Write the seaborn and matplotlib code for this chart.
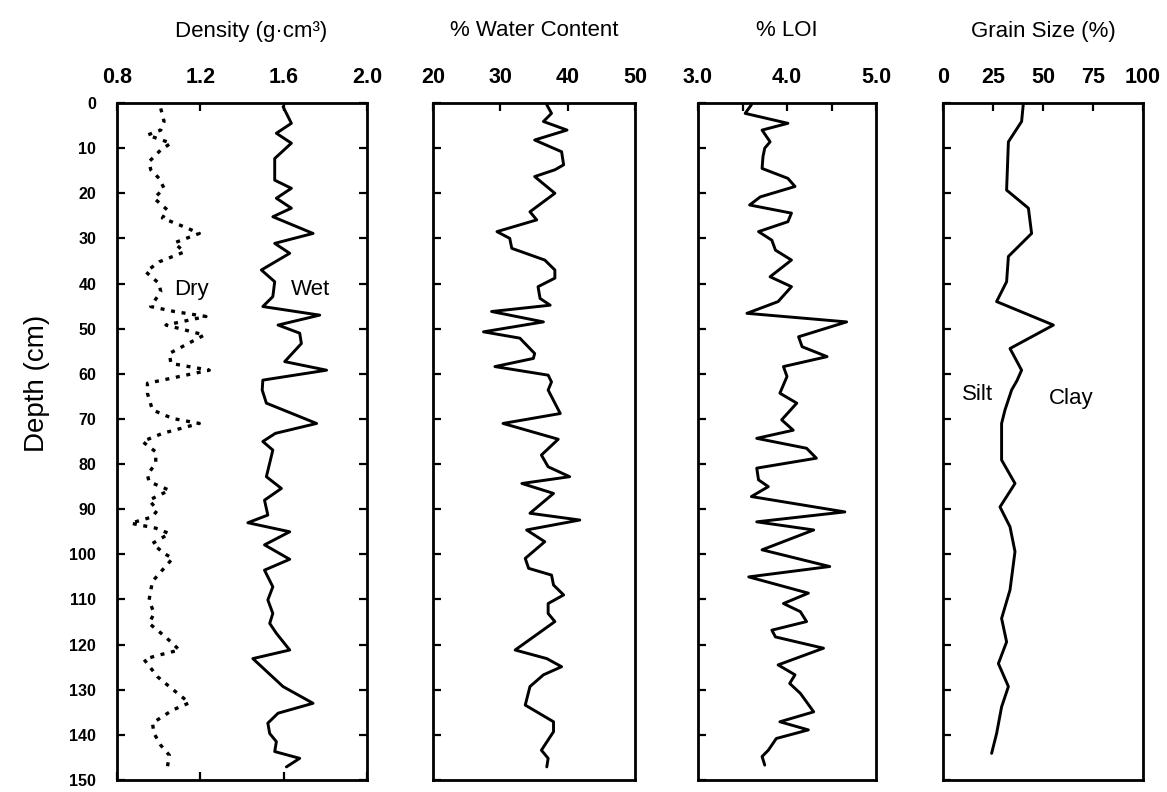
import matplotlib
matplotlib.use("Agg")
import matplotlib.pyplot as plt
import seaborn as sns
import numpy as np

# ---------------- data ----------------
wet_depth = [0.8, 4.5, 6.7, 8.9, 12.3, 17.1, 18.9, 21.1, 23.3, 25.2, 28.9, 31.1, 33.3, 37.0,
             39.6, 42.9, 45.1, 47.0, 49.2, 51.0, 53.3, 57.3, 59.2, 61.4, 63.6, 66.5, 71.0,
             73.2, 75.0, 76.9, 82.8, 85.4, 88.0, 91.3, 93.0, 95.0, 97.9, 101.1, 103.5, 107.2,
             110.1, 113.1, 115.3, 117.5, 121.2, 123.1, 129.3, 133.0, 135.2, 137.4, 139.7,
             141.5, 143.7, 145.2, 147.1]
wet_density = [1.597, 1.637, 1.565, 1.637, 1.557, 1.557, 1.637, 1.565, 1.637, 1.548, 1.741,
               1.557, 1.629, 1.493, 1.557, 1.548, 1.500, 1.773, 1.573, 1.677, 1.685, 1.605,
               1.806, 1.500, 1.497, 1.517, 1.758, 1.560, 1.500, 1.548, 1.517, 1.589, 1.508,
               1.524, 1.428, 1.629, 1.508, 1.629, 1.508, 1.548, 1.524, 1.548, 1.533, 1.565,
               1.629, 1.452, 1.597, 1.741, 1.573, 1.524, 1.533, 1.565, 1.557, 1.677, 1.613]

dry_depth = [1.2, 4.1, 6.0, 7.1, 8.9, 10.4, 13.0, 14.8, 16.7, 18.9, 21.1, 23.7, 25.5, 27.6,
             28.9, 31.0, 33.0, 35.2, 37.4, 40.0, 41.8, 45.1, 46.2, 47.3, 49.2, 51.4, 55.5,
             57.7, 59.2, 62.1, 64.3, 68.0, 69.9, 71.0, 73.2, 75.0, 77.3, 79.8, 82.4, 83.9,
             85.8, 88.0, 90.2, 91.7, 93.1, 94.2, 95.4, 97.6, 99.8, 100.9, 106.0, 110.1,
             113.1, 115.3, 117.1, 119.4, 121.2, 122.5, 123.3, 127.1, 129.3, 132.9, 134.5,
             137.4, 139.7, 142.3, 144.5, 147.1]
dry_density = [1.010, 1.026, 1.010, 0.946, 1.059, 1.010, 0.954, 0.962, 1.002, 1.026, 0.978,
               1.042, 1.018, 1.131, 1.195, 1.075, 1.123, 1.002, 0.938, 1.002, 1.010, 0.962,
               1.075, 1.227, 1.035, 1.219, 1.051, 1.059, 1.243, 0.946, 0.946, 0.970, 1.067,
               1.195, 1.018, 0.922, 0.986, 0.986, 0.946, 0.954, 1.051, 0.954, 0.994, 0.970,
               0.866, 0.986, 1.051, 0.970, 1.026, 1.067, 0.970, 0.954, 0.978, 0.954, 1.002,
               1.059, 1.099, 0.986, 0.930, 0.994, 1.051, 1.147, 1.067, 0.970, 0.978, 1.010,
               1.051, 1.042]

water_depth = [0.4, 2.3, 4.1, 6.0, 8.2, 9.7, 10.8, 13.7, 14.8, 16.3, 20.0, 24.1, 25.9, 28.5,
               30.0, 32.2, 34.8, 37.0, 38.8, 40.7, 43.3, 44.8, 46.2, 48.5, 50.7, 52.1, 55.5,
               56.6, 58.4, 60.3, 61.8, 63.6, 68.8, 71.0, 74.5, 78.0, 80.6, 82.8, 84.3, 86.5,
               90.9, 92.4, 94.6, 97.2, 100.9, 103.1, 104.6, 106.8, 109.0, 110.9, 113.1, 114.9,
               121.2, 123.1, 124.9, 126.7, 129.3, 133.4, 137.1, 139.3, 143.4, 145.2, 147.1]
water_content = [36.9, 37.6, 36.4, 39.9, 35.1, 37.4, 39.1, 39.4, 38.1, 35.1, 38.1, 34.4, 35.4,
                 29.5, 31.4, 31.7, 36.6, 38.1, 38.1, 35.6, 35.9, 37.4, 28.7, 36.4, 27.5, 32.9,
                 35.1, 34.9, 29.2, 37.1, 37.6, 37.1, 38.9, 30.4, 38.6, 36.1, 37.1, 40.3, 33.2,
                 37.9, 34.4, 41.8, 33.9, 36.6, 33.7, 34.2, 37.6, 37.9, 39.4, 37.1, 37.1, 38.1,
                 32.2, 36.9, 39.1, 36.4, 34.4, 33.7, 37.9, 37.9, 36.1, 37.1, 36.9]

loi_depth = [0.4, 2.3, 4.5, 6.0, 8.6, 10.0, 11.9, 14.5, 16.7, 18.5, 20.8, 22.6, 24.4, 26.3,
             28.5, 30.4, 32.6, 34.8, 38.5, 40.7, 44.0, 46.6, 48.5, 51.8, 54.0, 56.2, 58.4,
             60.6, 64.3, 66.5, 70.2, 72.5, 74.3, 76.5, 78.7, 80.9, 83.5, 85.0, 87.2, 90.6,
             92.8, 94.6, 99.0, 102.7, 105.0, 108.6, 110.9, 112.7, 114.9, 116.8, 118.3, 120.8,
             124.5, 126.7, 128.6, 130.8, 134.9, 137.1, 138.9, 140.8, 143.4, 144.8, 146.7]
loi_pct = [3.60, 3.53, 4.01, 3.72, 3.81, 3.75, 3.73, 3.72, 4.01, 4.09, 3.70, 3.58, 4.05, 4.01,
           3.68, 3.83, 3.87, 4.05, 3.81, 4.05, 3.90, 3.55, 4.67, 4.13, 4.17, 4.45, 3.96, 4.00,
           3.92, 4.11, 3.94, 4.07, 3.66, 4.22, 4.33, 3.66, 3.68, 3.79, 3.60, 4.65, 3.66, 4.30,
           3.72, 4.48, 3.57, 4.24, 3.96, 4.15, 4.22, 3.83, 3.87, 4.41, 3.90, 4.09, 4.03, 4.15,
           4.30, 3.92, 4.24, 3.88, 3.79, 3.72, 3.75]

grain_depth = [0.0, 4.1, 8.6, 19.3, 23.3, 28.9, 34.0, 39.6, 44.0, 49.2, 54.4, 59.2, 61.5,
               63.6, 68.0, 71.0, 79.1, 84.3, 89.5, 93.9, 99.4, 107.9, 114.2, 119.4, 124.2,
               129.3, 133.8, 139.7, 144.1]
grain_silt = [40.2, 39.3, 32.7, 31.8, 42.7, 44.3, 32.7, 31.8, 26.8, 55.2, 33.5, 39.3, 37.0,
              34.3, 31.0, 29.3, 29.3, 36.0, 28.5, 33.5, 36.0, 33.5, 29.3, 31.8, 27.7, 32.7,
              29.3, 26.8, 24.3]

titles = ["Density (g\u00b7cm\u00b3)", "% Water Content", "% LOI", "Grain Size (%)"]
xlims = [(0.8, 2.0), (20, 50), (3.0, 5.0), (0, 100)]
xlabels = [["0.8", "1.2", "1.6", "2.0"], ["20", "30", "40", "50"],
           ["3.0", "4.0", "5.0"], ["0", "25", "50", "75", "100"]]
xlabel_vals = [[0.8, 1.2, 1.6, 2.0], [20, 30, 40, 50], [3.0, 4.0, 5.0], [0, 25, 50, 75, 100]]
xminor_vals = [[], [], [3.5, 4.5], []]
depth_ticks = list(range(0, 151, 10))

# ---------------- style ----------------
sns.set_style("white")
plt.rcParams["font.family"] = ["Liberation Sans", "DejaVu Sans"]
for k in ["text.color", "axes.labelcolor", "xtick.color", "ytick.color", "axes.edgecolor"]:
    plt.rcParams[k] = "black"

W, H = 1167, 792
fig = plt.figure(figsize=(W / 100, H / 100), dpi=100)

panels_px = [(117, 367), (433, 635), (698, 876), (943, 1143)]
title_x_px = [251, 534, 787, 1043]
top_px, bot_px = 103, 780

axes = []
for (l, r) in panels_px:
    ax = fig.add_axes([l / W, 1 - bot_px / H, (r - l) / W, (bot_px - top_px) / H])
    axes.append(ax)

lw = 2.1
sns.lineplot(x=wet_density, y=wet_depth, sort=False, estimator=None, orient="y",
             color="black", linewidth=lw, ax=axes[0])
sns.lineplot(x=dry_density, y=dry_depth, sort=False, estimator=None, orient="y",
             color="black", linewidth=2.4, ax=axes[0])
axes[0].lines[-1].set_dashes((1.2, 2.0))
sns.lineplot(x=water_content, y=water_depth, sort=False, estimator=None, orient="y",
             color="black", linewidth=lw, ax=axes[1])
sns.lineplot(x=loi_pct, y=loi_depth, sort=False, estimator=None, orient="y",
             color="black", linewidth=lw, ax=axes[2])
sns.lineplot(x=grain_silt, y=grain_depth, sort=False, estimator=None, orient="y",
             color="black", linewidth=lw, ax=axes[3])

for i, ax in enumerate(axes):
    ax.set_xlim(*xlims[i])
    ax.set_ylim(150, 0)
    ax.set_xlabel("")
    ax.set_ylabel("")
    for s in ax.spines.values():
        s.set_visible(True)
        s.set_color("black")
        s.set_linewidth(2.0)
    ax.xaxis.tick_top()
    ax.set_xticks(xlabel_vals[i])
    ax.set_xticklabels(xlabels[i], fontsize=15.5, fontweight="bold")
    if xminor_vals[i]:
        ax.set_xticks(xminor_vals[i], minor=True)
    ax.set_yticks(depth_ticks)
    ax.tick_params(axis="x", which="both", direction="in", length=6, width=1.6,
                   top=True, bottom=(i == 0), labeltop=True, labelbottom=False, pad=11)
    ax.tick_params(axis="y", direction="in", length=6, width=1.6,
                   left=True, right=(i == 0), labelleft=(i == 0), labelright=False, pad=15)
    if i == 0:
        ax.set_yticklabels([str(t) for t in depth_ticks], fontsize=11.5, fontweight="bold")
    ax.grid(False)
    fig.text(title_x_px[i] / W, 1 - 31 / H, titles[i], fontsize=16,
             ha="center", va="center")

axes[0].text(1.155, 41.4, "Dry", fontsize=16, ha="center", va="center")
axes[0].text(1.73, 41.4, "Wet", fontsize=16, ha="center", va="center")
axes[3].text(17.5, 64.5, "Silt", fontsize=16, ha="center", va="center")
axes[3].text(64, 65.5, "Clay", fontsize=16, ha="center", va="center")

fig.text(37 / W, 1 - 383 / H, "Depth (cm)", rotation=90, fontsize=20,
         ha="center", va="center")

fig.savefig("out.png", dpi=100, facecolor="white")
